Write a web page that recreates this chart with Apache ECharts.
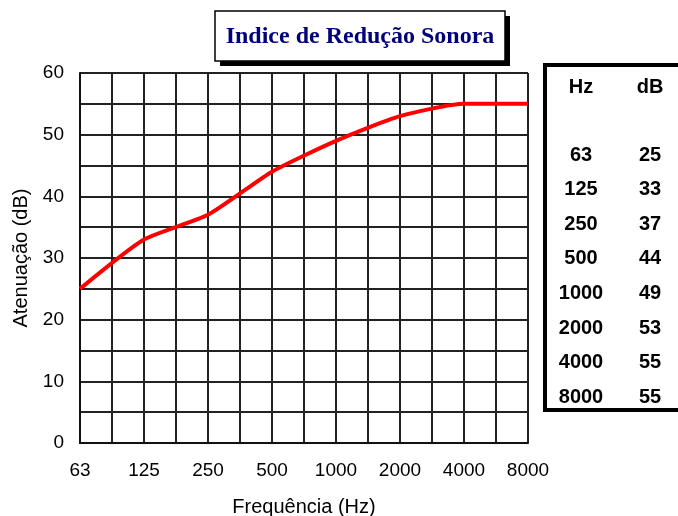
<!DOCTYPE html>
<html>
<head>
<meta charset="utf-8">
<script src="https://cdn.jsdelivr.net/npm/echarts@6/dist/echarts.min.js"></script>
<style>
  html, body { margin: 0; padding: 0; background: #fff; }
  #chart { width: 678px; height: 516px; }
</style>
</head>
<body>
<div id="chart"></div>
<script>
const freqLabels = ['63', '125', '250', '500', '1000', '2000', '4000', '8000']
const attenuation = [25, 33, 37, 44, 49, 53, 55, 55]
const yTicks = [0, 10, 20, 30, 40, 50, 60]

const chart = echarts.init(document.getElementById('chart'))
const tableFont = 'bold 20px "Liberation Sans", Arial'

// table on the right, one row per frequency
const tableRows = []
freqLabels.forEach((f, i) => {
  const y = 155 + i * 34.6
  tableRows.push({ type: 'text', x: 581, y: y, style: { text: f, font: tableFont, fill: '#000', align: 'center', verticalAlign: 'middle' } })
  tableRows.push({ type: 'text', x: 650, y: y, style: { text: String(attenuation[i]), font: tableFont, fill: '#000', align: 'center', verticalAlign: 'middle' } })
})

chart.setOption({
  animation: false,
  backgroundColor: '#fff',
  grid: { left: 80, top: 73, right: 150, bottom: 73, outerBoundsMode: 'none' },
  xAxis: {
    type: 'value',
    min: 0,
    max: 7,
    interval: 0.5,
    name: 'Frequência (Hz)',
    nameLocation: 'middle',
    nameGap: 54,
    nameTextStyle: { fontFamily: '"Liberation Sans", Arial', fontSize: 20, color: '#000' },
    axisLine: { lineStyle: { color: '#111', width: 2 } },
    axisTick: { show: false },
    axisLabel: {
      fontFamily: '"Liberation Sans", Arial', fontSize: 19, color: '#000', margin: 18,
      formatter: v => Number.isInteger(v) ? freqLabels[v] : ''
    },
    splitLine: { show: true, lineStyle: { color: '#222', width: 2 } }
  },
  yAxis: {
    type: 'value',
    min: 0,
    max: 60,
    interval: 5,
    name: 'Atenuação (dB)',
    nameLocation: 'middle',
    nameGap: 47,
    nameTextStyle: { fontFamily: '"Liberation Sans", Arial', fontSize: 20, color: '#000' },
    axisLine: { show: true, lineStyle: { color: '#111', width: 2 } },
    axisTick: { show: false },
    axisLabel: {
      fontFamily: '"Liberation Sans", Arial', fontSize: 19, color: '#000', margin: 16,
      formatter: v => yTicks.includes(v) ? String(v) : ''
    },
    splitLine: { show: true, lineStyle: { color: '#222', width: 2 } }
  },
  series: [{
    type: 'line',
    data: attenuation.map((v, i) => [i, v]),
    smooth: 0.2,
    symbol: 'none',
    lineStyle: { color: '#ff0000', width: 4 }
  }],
  graphic: [
    // title box with shadow
    { type: 'rect', shape: { x: 220, y: 16, width: 290, height: 50 }, style: { fill: '#000' }, z: 10 },
    { type: 'rect', shape: { x: 215, y: 11, width: 290, height: 50 }, style: { fill: '#fff', stroke: '#000', lineWidth: 1.5 }, z: 11 },
    { type: 'text', x: 360, y: 37, z: 12, style: { text: 'Indice de Redução Sonora', font: 'bold 24px "Liberation Serif", "Times New Roman"', fill: '#00007a', align: 'center', verticalAlign: 'middle' } },
    // table frame
    { type: 'rect', shape: { x: 545, y: 65, width: 140, height: 345 }, style: { fill: '#fff', stroke: '#000', lineWidth: 4 } },
    { type: 'text', x: 581, y: 87, style: { text: 'Hz', font: tableFont, fill: '#000', align: 'center', verticalAlign: 'middle' } },
    { type: 'text', x: 650, y: 87, style: { text: 'dB', font: tableFont, fill: '#000', align: 'center', verticalAlign: 'middle' } },
    ...tableRows
  ]
})
</script>
</body>
</html>
